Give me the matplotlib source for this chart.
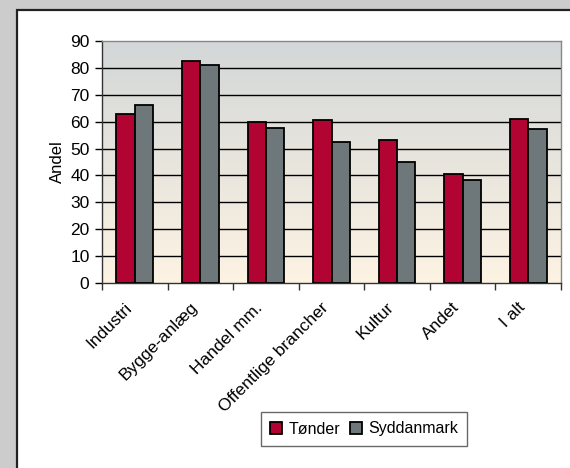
import numpy as np
import matplotlib
matplotlib.use("Agg")
import matplotlib.pyplot as plt
from matplotlib.patches import Rectangle
from matplotlib.colors import LinearSegmentedColormap
import matplotlib.transforms as mtransforms

categories = ["Industri", "Bygge-anlæg", "Handel mm.", "Offentlige brancher",
              "Kultur", "Andet", "I alt"]
tonder = [62.7, 82.7, 59.9, 60.5, 53.2, 40.6, 61.1]
syddanmark = [66.1, 81.0, 57.6, 52.6, 45.1, 38.4, 57.1]
series_names = ["Tønder", "Syddanmark"]
yticks = [0, 10, 20, 30, 40, 50, 60, 70, 80, 90]

plt.rcParams['font.family'] = ['Liberation Sans', 'DejaVu Sans']

W, H = 570, 468
fig = plt.figure(figsize=(W / 100, H / 100), dpi=100)
fig.patch.set_facecolor("#cccccc")

# white chart panel
panel = Rectangle((16.5 / W, 0 - 0.05), 1.1, (H - 10) / H + 0.05,
                  transform=fig.transFigure, facecolor="white",
                  edgecolor="#222222", linewidth=1.6, zorder=0)
fig.patches.append(panel)

ax = fig.add_axes([102 / W, 1 - 283 / H, (561 - 102) / W, (283 - 41) / H])
ax.set_zorder(2)

n = len(categories)
x = np.arange(n)
bw = 0.28

# gradient background
cmap = LinearSegmentedColormap.from_list("bg", ["#fdf3e3", "#d3d7d8"])
grad = np.linspace(0, 1, 256).reshape(-1, 1)
ax.imshow(grad, aspect="auto", cmap=cmap, origin="lower",
          extent=[-0.5, n - 0.5, 0, 90], zorder=0)

for yv in yticks[1:-1]:
    ax.axhline(yv, color="black", linewidth=1.0, zorder=1)

ax.bar(x - bw / 2, tonder, width=bw, color="#b10432", edgecolor="black",
       linewidth=1.3, label=series_names[0], zorder=3)
ax.bar(x + bw / 2, syddanmark, width=bw, color="#6e7779", edgecolor="black",
       linewidth=1.3, label=series_names[1], zorder=3)

ax.set_xlim(-0.5, n - 0.5)
ax.set_ylim(0, 90)
ax.set_yticks(yticks)
ax.set_xticks(x)
ax.set_xticklabels(categories, rotation=45, ha="right", va="top",
                   rotation_mode="default", fontsize=12.5)
offset = mtransforms.ScaledTranslation(-9 / 100, 0, fig.dpi_scale_trans)
for lab in ax.get_xticklabels():
    lab.set_transform(lab.get_transform() + offset)
ax.set_xticks(np.arange(n + 1) - 0.5, minor=True)
ax.tick_params(axis="x", which="major", length=0, pad=12)
ax.tick_params(axis="x", which="minor", length=5, width=1, color="#333333")
ax.tick_params(axis="y", length=5, width=1, labelsize=12.5, pad=4)

for s in ["top", "right"]:
    ax.spines[s].set_color("#888888")
    ax.spines[s].set_linewidth(1.0)
for s in ["left", "bottom"]:
    ax.spines[s].set_color("#333333")
    ax.spines[s].set_linewidth(1.0)

ax.set_ylabel("Andel", fontsize=12, labelpad=4)

leg = fig.legend(loc="center", bbox_to_anchor=(364 / W, 1 - 429 / H),
                 ncol=2, frameon=True, fancybox=False, fontsize=11.5,
                 handlelength=0.75, handleheight=0.75, handletextpad=0.4,
                 columnspacing=0.6, borderpad=0.6)
leg.get_frame().set_edgecolor("#444444")
leg.get_frame().set_linewidth(1.0)

fig.savefig("out.png", dpi=100, facecolor=fig.get_facecolor())
